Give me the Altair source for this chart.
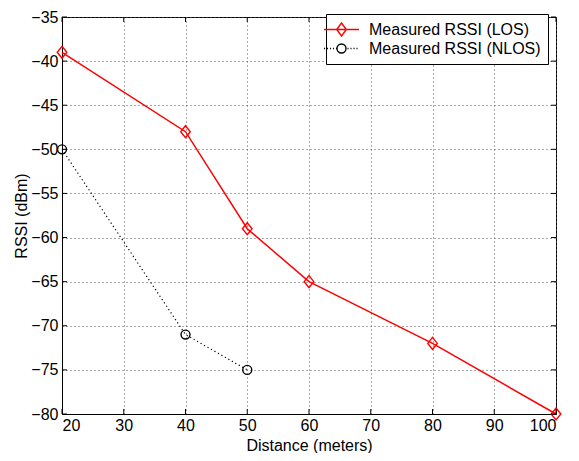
import altair as alt
import pandas as pd

# ---- data ----
dist_los = [20, 40, 50, 60, 80, 100]
rssi_los = [-39, -48, -59, -65, -72, -80]
dist_nlos = [20, 40, 50]
rssi_nlos = [-50, -71, -75]
series_names = ["Measured RSSI (LOS)", "Measured RSSI (NLOS)"]
x_ticks = [20, 30, 40, 50, 60, 70, 80, 90, 100]
y_ticks = [-80, -75, -70, -65, -60, -55, -50, -45, -40, -35]

los = pd.DataFrame({"d": dist_los, "r": rssi_los, "s": series_names[0]})
nlos = pd.DataFrame({"d": dist_nlos, "r": rssi_nlos, "s": series_names[1]})
df = pd.concat([los, nlos], ignore_index=True)
xt = pd.DataFrame({"d": x_ticks})
yt = pd.DataFrame({"r": y_ticks})

FONT = "Liberation Sans"
W, H = 494, 397
TK = 5

# marker paths
diamond_path = "M0,-1L0.8,0L0,1L-0.8,0Z"

# legend symbol paths (line + marker), units = symbolSize**0.5 / 2 px
r = 7.5
L = 17.5 / r
dh, dv = 4.8 / r, 6.5 / r
leg_los = f"M{-L},0L{L},0M0,{-dv}L{dh},0L0,{dv}L{-dh},0Z"
cr = 4.5 / r
dots = ""
x = -L
while x < -cr - 0.1:
    dots += f"M{x:.3f},0L{x + 0.14:.3f},0"
    x += 0.4
x = cr + 0.2
while x < L:
    dots += f"M{x:.3f},0L{x + 0.14:.3f},0"
    x += 0.4
leg_nlos = dots + f"M{cr},0A{cr},{cr} 0 1,1 {-cr},0A{cr},{cr} 0 1,1 {cr},0"

xscale = alt.Scale(domain=[20, 100], nice=False)
yscale = alt.Scale(domain=[-80, -35], nice=False)
xs = alt.X("d:Q", scale=xscale, axis=alt.Axis(values=x_ticks, title="Distance (meters)"))
ys = alt.Y("r:Q", scale=yscale, axis=alt.Axis(values=y_ticks, title="RSSI (dBm)"))

base = alt.Chart(df).encode(x=xs, y=ys)

line_los = base.transform_filter(alt.datum.s == series_names[0]).mark_line(
    color="#ff0000", strokeWidth=1.5)
line_nlos = base.transform_filter(alt.datum.s == series_names[1]).mark_line(
    color="black", strokeWidth=1.2, strokeDash=[1.2, 2.8])
pt_los = base.transform_filter(alt.datum.s == series_names[0]).mark_point(
    shape=diamond_path, size=144, color="#ff0000", filled=False, strokeWidth=1.4, opacity=1)
pt_nlos = base.transform_filter(alt.datum.s == series_names[1]).mark_point(
    shape="circle", size=80, color="black", filled=False, strokeWidth=1.4, opacity=1)

# inward tick marks on all four sides
tick_style = dict(color="black", strokeWidth=1)
xt_bottom = alt.Chart(xt).mark_rule(**tick_style).encode(
    x=alt.X("d:Q", scale=xscale), y=alt.value(H - TK), y2=alt.value(H))
xt_top = alt.Chart(xt).mark_rule(**tick_style).encode(
    x=alt.X("d:Q", scale=xscale), y=alt.value(0), y2=alt.value(TK))
yt_left = alt.Chart(yt).mark_rule(**tick_style).encode(
    y=alt.Y("r:Q", scale=yscale), x=alt.value(0), x2=alt.value(TK))
yt_right = alt.Chart(yt).mark_rule(**tick_style).encode(
    y=alt.Y("r:Q", scale=yscale), x=alt.value(W - TK), x2=alt.value(W))

legend_layer = base.transform_filter("false").mark_point(filled=False, opacity=1).encode(
    color=alt.Color("s:N", scale=alt.Scale(domain=series_names, range=["#ff0000", "black"]),
                    legend=alt.Legend(title=None, orient="none", legendX=264, legendY=-3,
                                      symbolSize=225, symbolStrokeWidth=1.4,
                                      labelFont=FONT, labelFontSize=16, labelColor="black",
                                      labelLimit=400,
                                      labelOffset=19, rowPadding=1, padding=7,
                                      strokeColor="black", fillColor="white",
                                      cornerRadius=0, symbolOpacity=1)),
    shape=alt.Shape("s:N", scale=alt.Scale(domain=series_names, range=[leg_los, leg_nlos]),
                    legend=alt.Legend(title=None)),
)

chart = alt.layer(line_los, line_nlos, pt_los, pt_nlos,
                  xt_bottom, xt_top, yt_left, yt_right, legend_layer).properties(
    width=W, height=H,
    autosize=alt.AutoSizeParams(type="none"),
    padding={"left": 54, "top": 9, "right": 15, "bottom": 39},
).configure_view(stroke="black", strokeWidth=1).configure_axis(
    labelFont=FONT, titleFont=FONT, labelFontSize=16, titleFontSize=16,
    labelColor="black", titleColor="black", titleFontWeight="normal",
    domainColor="black", tickSize=0, labelPadding=3,
    grid=True, gridColor="#555", gridDash=[1, 3], gridOpacity=1, gridWidth=1,
).configure_axisX(titlePadding=4).configure_axisY(titlePadding=1, labelPadding=4)

chart.save("out.html", embed_options={"renderer": "svg", "actions": False})
